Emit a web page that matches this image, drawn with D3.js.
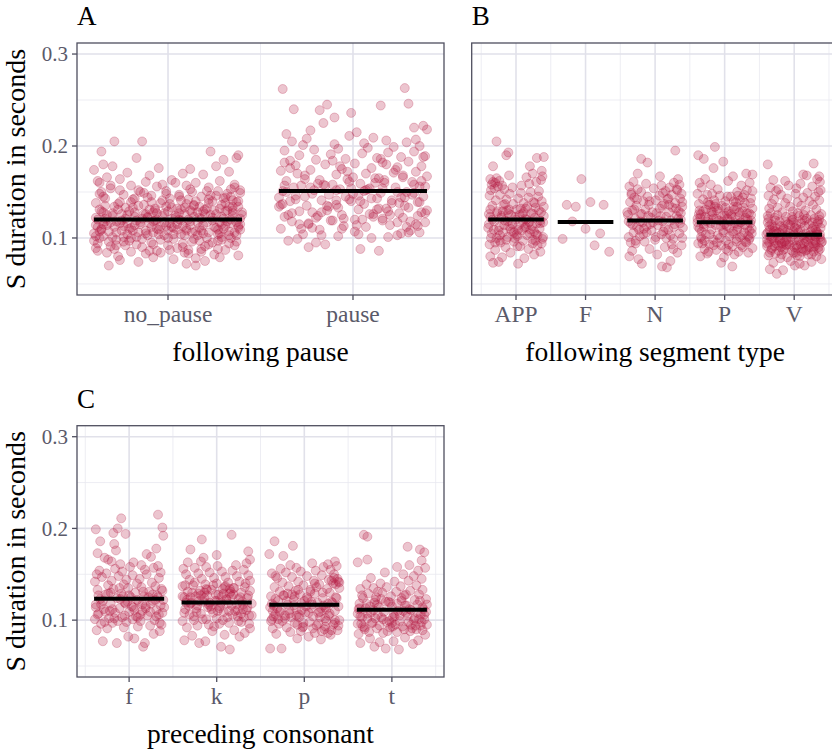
<!DOCTYPE html>
<html>
<head>
<meta charset="utf-8">
<script src="https://cdn.jsdelivr.net/npm/d3@7"></script>
<style>
  body { margin: 0; background: #fff; }
</style>
</head>
<body>
<script>
// durations are in ms, jitter in 1/100 of a category step: [dx, ms, dx, ms, ...]
const pauseCats = ["no_pause", "pause"];
const pauseMeans = [0.120, 0.151];
const noPause = [
-29,205,-14,205,-36,194,23,194,38,190,-17,187,30,185,-35,180,-30,178,-40,174,
37,187,26,178,-5,176,12,175,-22,171,33,172,8,170,-10,168,19,169,-33,166,
-38,162,-26,164,-12,161,2,163,15,160,28,162,36,158,-20,157,-6,156,10,157,
22,155,34,153,-31,154,-16,152,-1,151,13,150,27,151,39,149,-37,148,-24,147,
-9,146,6,147,18,145,31,144,-34,143,-19,142,-3,141,11,142,24,140,37,139,
-39,138,-27,137,-13,136,1,137,14,135,29,136,35,134,-23,133,-7,132,9,133,
20,131,32,130,-36,129,-18,128,-2,127,16,128,26,126,40,125,-30,124,-11,123,
4,124,17,122,30,121,-38,120,-25,119,-8,118,7,119,21,117,34,116,-15,115,
-33,114,-1,113,12,114,25,112,38,111,-21,110,-5,109,10,108,27,109,-37,107,
-28,106,-12,105,3,104,19,105,33,103,-35,102,-17,101,0,100,14,99,29,98,
-40,97,-24,96,-9,95,8,94,22,93,36,92,-31,91,-14,90,5,89,18,88,
31,87,-38,86,-20,85,-4,84,11,83,25,82,-27,80,-8,79,15,78,38,81,
-26,76,3,77,10,72,15,70,-32,70,20,75,-16,74,28,79,-39,89,37,96,
-34,118,-22,125,-10,131,2,121,13,128,24,119,35,127,-29,112,-15,117,-3,124,
8,113,20,126,32,118,-37,131,-25,108,-11,122,1,116,12,130,26,111,39,121,
-30,127,-18,114,-6,120,6,127,17,111,29,123,-35,115,-21,129,-9,112,4,122,
16,117,28,132,38,113,-39,122,-26,116,-13,126,-1,134,10,110,23,125,34,120,
-32,107,-19,133,-7,119,5,109,18,121,31,129,-36,110,-23,121,-12,108,0,129,
11,120,22,106,35,124,-28,118,-16,106,-4,113,7,131,19,114,30,110,40,128,
-38,112,-27,131,-14,121,-2,117,9,126,21,132,33,107,-33,125,-20,111,-8,128,
3,111,14,123,27,104,37,117,-40,105,-29,134,-17,119,-5,104,6,120,17,134,
29,115,-35,128,-22,104,-10,116,2,133,13,106,25,130,36,106,-31,117,-18,123,
-6,110,7,104,19,129,31,113,-37,100,-24,113,-12,126,0,108,12,118,24,122,
35,130,-30,101,-19,108,-7,130,5,115,16,103,28,117,39,109,-26,139,-14,99,
-2,103,10,137,21,100,33,134,-39,114,-28,98,-16,135,-4,98,9,103,22,138,
34,100,-34,135,-21,97,-9,139,3,99,15,140,27,97,38,134,-32,96,-11,144,
1,143,13,96,26,146,37,103,-36,150,-23,92,-8,93,6,145,20,91,32,148,
-38,94,-26,152,-13,149,0,92,12,153,24,95,36,155,-31,157,-17,93,-3,158,
8,90,21,151,33,94,-37,160,-24,101,-10,86,4,160,17,97,30,143,39,152,
-29,88,-15,150,-1,148,11,87,23,146,35,141,-35,145,-20,139,-6,86,7,141,
18,85,31,138,-33,84,-18,143,-4,138,9,84,22,142,34,145,-28,92,-12,83,
1,87,14,136,27,88,38,140,-39,102,-25,126,-11,103,2,112,15,107,28,105,
39,115,-36,109,-22,116,-8,106,5,132,18,108,29,101,-34,121,-20,100,-6,127
];
const pause = [
-38,262,28,263,30,246,15,244,-14,245,-32,240,-18,239,-1,236,-10,231,-16,225,
38,222,40,218,33,220,2,215,-36,213,-23,217,14,86,4,88,-24,90,-15,93,
-35,97,-20,95,-30,99,10,100,24,103,36,106,-8,102,-27,104,19,101,31,108,
-39,110,-22,111,-5,113,7,112,20,114,34,115,39,117,-33,118,-12,119,1,120,
16,121,27,122,-37,123,-19,124,-6,125,11,126,25,127,37,128,-29,129,-14,130,
3,131,18,132,30,133,-40,134,-25,135,-9,136,6,137,21,138,35,139,-34,140,
-17,141,-2,142,13,143,26,144,38,145,-31,146,-13,147,0,148,15,149,29,150,
-38,151,-21,152,-7,153,9,154,23,155,36,156,-28,157,-11,158,4,159,17,160,
32,161,-36,162,-18,163,-3,164,12,165,27,166,40,167,-26,168,-9,169,7,170,
22,171,34,172,-39,173,-23,174,-6,175,10,176,24,177,37,178,-31,179,-15,180,
1,181,16,182,30,183,-34,184,-20,185,-4,186,13,187,26,188,39,189,-29,190,
-12,191,5,192,19,193,33,194,-37,195,-21,196,-8,197,8,198,22,199,36,200,
-27,201,-10,202,6,203,29,204,-33,205,18,206,34,207,-25,208,11,209,-2,211,
-36,150,-22,148,-9,152,3,146,16,154,28,144,39,156,-31,142,-16,158,-1,140,
12,160,25,138,37,162,-39,136,-26,164,-13,134,0,166,14,132,27,168,40,130,
-30,170,-17,128,-3,172,9,126,23,174,35,124,-34,176,-20,122,-7,178,5,120,
18,180,31,118,-37,182,-24,116,-11,184,2,114,15,186,29,112,38,188,-28,110,
-15,157,-4,145,8,153,21,141,33,149,-38,137,-23,155,-8,133,6,151,19,129,
32,147,-35,125,-19,159,-5,121,10,143,24,117,36,139,-29,115,-14,135,1,107,
13,131,26,105,39,127,-32,155,-18,109,-2,161,11,123,24,150,35,113,-26,145,
-11,119,4,140,17,163,30,106,-37,157,-22,128,-6,110,7,152,20,125,33,158,
-40,144,-24,115,-9,141,3,104,16,119,28,135,-33,127,-17,103,-1,154,14,165
];

const segCats = ["APP", "F", "N", "P", "V"];
const segMeans = [0.120, 0.1174, 0.119, 0.117, 0.1036];
const segApp = [
-28,205,-11,193,-14,190,40,188,30,187,20,178,37,173,-33,178,-33,73,3,72,
-25,74,-37,80,-20,79,12,78,26,82,35,85,-8,84,-30,87,18,88,-15,90,
6,91,31,92,-38,93,-22,95,-3,96,10,97,24,98,38,99,-28,100,-12,101,
2,102,16,103,29,104,-35,105,-19,106,-6,107,8,108,21,109,34,110,-40,111,
-24,112,-10,113,4,114,17,115,30,116,39,117,-31,118,-16,119,0,120,13,121,
27,122,-37,123,-21,124,-7,125,9,126,22,127,36,128,-27,129,-13,130,1,131,
14,132,28,133,40,134,-34,135,-18,136,-4,137,11,138,25,139,37,140,-29,141,
-14,142,3,143,18,144,32,145,-38,146,-23,147,-9,148,7,149,21,150,33,151,
-36,152,-31,154,-26,156,-35,158,-30,160,-24,162,-37,164,-28,165,-20,157,-33,161,
-17,153,-5,155,8,157,19,159,29,161,36,163,15,166,-10,168,24,170,38,167,
-39,115,-25,108,-12,118,1,104,14,112,26,107,39,101,-32,109,-17,114,-3,106,
10,118,23,113,35,119,-36,100,-21,122,-8,110,5,125,19,117,31,103,-27,127,
-14,98,-1,123,12,111,25,126,37,94,-34,120,-19,129,-5,115,7,132,20,105,
33,130,-39,126,-23,103,-10,131,3,109,16,134,28,97,40,124,-30,95,-16,137,
-2,100,11,128,24,94,35,116,-37,131,-24,97,-11,127,2,91,15,120,27,138
];
const segF = [-33,99,-27,136,-14,134,-6,164,7,139,26,136,-19,118,0,110,21,105,13,92,34,85];
const segN = [
29,195,-20,186,-11,182,-25,170,7,167,33,164,17,68,10,69,-19,72,-24,77,
-37,80,32,84,-33,86,22,75,3,82,-8,88,14,90,38,92,-28,94,-15,96,
0,98,26,99,-38,101,-22,102,9,104,35,105,-31,106,-5,108,19,109,40,111,
-26,112,-12,113,4,114,28,115,-35,116,-18,117,11,118,23,119,37,120,-29,121,
-6,122,16,123,31,124,-39,125,-21,126,2,127,20,128,34,129,-33,130,-14,131,
7,132,25,133,39,134,-27,135,-9,136,13,137,29,138,-36,139,-17,140,1,141,
18,142,36,143,-30,144,-11,145,6,146,24,147,38,148,-34,149,-20,150,15,151,
32,152,-25,153,-2,154,21,155,-37,156,9,157,35,158,-13,159,27,160,-31,161,
-16,110,5,119,22,103,37,127,-32,114,-10,124,12,107,30,132,-38,118,-23,109,
-4,128,16,100,33,121,-28,97,-7,115,10,135,27,112,39,139,-35,95,-19,126,
1,101,19,143,36,116,-30,131,-12,106,8,124,24,93,-40,128,-26,142,14,111,
31,153,-3,117,-17,104,20,136,39,100,-34,147,-8,140,11,149,26,88,-21,118
];
const segP = [
-14,199,-38,190,-30,186,-2,183,31,170,40,169,12,167,-16,176,-35,80,-5,73,
11,69,-23,85,-36,160,-28,164,-33,155,-20,158,5,162,24,157,36,160,-10,153,
18,150,32,152,-39,148,-25,147,-7,146,9,145,26,144,38,143,-31,142,-15,141,
1,140,16,139,29,138,-37,137,-21,136,-4,135,13,134,27,133,40,132,-27,131,
-11,130,6,129,21,128,35,127,-34,126,-18,125,0,124,15,123,30,122,-39,121,
-24,120,-8,119,8,118,23,117,37,116,-30,115,-13,114,3,113,19,112,33,111,
-36,110,-19,109,-2,108,12,107,28,106,39,105,-27,104,-10,103,7,102,22,101,
36,100,-33,99,-16,98,2,97,17,96,31,95,-38,94,-22,93,-5,92,11,91,
26,90,40,89,-29,88,-12,87,5,86,20,85,34,84,-25,83,14,82,-1,79,
-35,122,-17,128,0,115,14,131,27,119,38,125,-30,112,-14,134,4,121,18,109,
32,127,-39,117,-23,136,-6,113,10,124,25,103,37,138,-33,107,-19,129,-3,118,
13,140,29,114,-37,126,-21,104,-9,132,7,111,22,141,35,98,-28,123,-11,95,
3,127,19,146,33,120,-34,101,-18,148,-2,106,15,116,30,96,40,151,-26,118,
-13,137,6,93,21,124,36,108,-31,129,-16,92,1,133,17,99,28,147,-38,112,
-24,139,-7,100,9,126,24,92,38,119,-29,97,-12,121,4,145,20,115,34,102,
-36,130,-20,116,-4,124,12,105,26,129,39,110,-32,94,-16,121,2,88,18,134
];
const segV = [
-38,180,28,181,13,169,18,168,36,167,37,161,-25,61,-35,66,-16,65,1,70,
15,70,-30,73,8,72,-5,75,25,74,39,77,-20,78,-10,79,32,80,-37,81,
20,82,-27,83,-1,84,11,85,35,86,-33,87,-14,88,4,89,28,90,-39,91,
-22,92,-7,93,14,94,31,95,40,96,-29,97,-11,98,6,99,23,100,37,101,
-35,102,-18,103,0,104,17,105,33,106,-26,107,-9,108,9,109,26,110,38,111,
-31,112,-15,113,3,114,21,115,34,116,-38,117,-21,118,-4,119,12,120,29,121,
-28,122,-12,123,7,124,24,125,39,126,-34,127,-17,128,-2,129,16,130,32,131,
-36,132,-24,133,-6,134,10,135,27,136,-32,137,-13,138,5,139,22,140,36,141,
-29,142,-10,143,13,144,30,145,-37,146,-19,147,2,148,19,149,35,150,-26,151,
-34,155,-8,157,9,159,-23,153,26,156,38,152,-30,163,-13,162,3,154,33,164,
-39,98,-25,105,-11,92,4,110,18,87,31,101,-36,95,-20,113,-3,86,12,103,
27,94,40,116,-32,89,-17,108,0,97,15,119,30,91,-38,106,-23,100,-6,114,
9,93,24,107,37,88,-28,112,-14,96,2,84,19,102,34,118,-35,109,-19,90,
-2,120,14,99,28,85,-40,104,-26,94,-9,115,6,106,21,92,36,124,-31,100,
-16,87,1,111,17,96,33,104,-37,121,-21,97,-5,101,11,89,26,117,39,95,
-29,108,-12,93,5,127,20,98,35,90,-33,115,-18,82,-1,117,16,86,31,109,
-39,94,-24,125,-8,96,8,80,23,103,38,98,-27,119,-11,103,3,92,18,121,
32,107,-35,84,-20,99,-3,123,13,88,28,112,-30,105,-15,110,0,90,15,113,
30,97,-38,124,-22,86,-7,105,10,116,25,82,37,104,-28,91,-13,118,7,97,
22,90,36,120,-33,99,-18,94,-1,107,14,125,29,102,-36,113,-22,106,4,81
];

const consCats = ["f", "k", "p", "t"];
const consMeans = [0.1233, 0.1192, 0.1167, 0.1112];
const consF = [
-9,211,33,215,-38,199,38,201,39,192,-13,200,-18,195,-4,194,-33,186,-17,183,
-15,176,31,178,20,172,25,169,-36,173,-28,168,-24,166,-20,164,-10,161,5,163,
-14,75,-30,77,16,71,18,75,6,80,-1,82,28,85,35,88,-37,89,-25,91,
-6,92,10,93,24,94,37,95,-32,96,-19,97,-3,98,13,99,29,100,-39,101,
-23,102,-8,103,8,104,21,105,34,106,-35,107,-16,108,0,109,15,110,31,111,
-29,112,-11,113,5,114,19,115,36,116,-38,117,-21,118,-5,119,11,120,27,121,
39,122,-33,123,-14,124,2,125,17,126,32,127,-27,128,-9,129,7,130,23,131,
38,132,-36,133,-18,134,-1,135,14,136,30,137,-24,138,-6,139,9,140,26,141,
-39,142,-20,143,-3,144,12,145,34,146,-31,147,-12,148,4,149,20,150,36,152,
-34,154,-16,156,1,158,18,155,28,157,-26,151,-8,153,14,160,33,159,-37,150,
-22,110,-7,126,10,103,25,118,38,108,-30,121,-13,99,3,115,16,131,31,104,
-35,127,-19,112,-2,120,13,106,27,128,40,114,-28,98,-10,123,6,111,22,125,
35,97,-38,114,-24,129,-5,105,9,122,24,109,37,134,-32,117,-17,102,0,127,
15,117,30,122,-27,109,-11,135,4,101,19,113,33,125,-36,106,-21,130,-4,118
];
const consK = [
17,193,-17,188,-30,177,36,175,-15,168,0,171,15,68,5,71,-20,75,-37,78,
-13,77,26,82,32,86,-28,83,9,84,-5,88,20,89,38,91,-34,92,-22,94,
-9,95,3,96,14,97,28,98,-39,99,-26,100,-12,101,0,102,12,103,24,104,
37,105,-31,106,-18,107,-4,108,8,109,21,110,34,111,-36,112,-23,113,-10,114,
4,115,17,116,30,117,40,118,-29,119,-15,120,-2,121,11,122,25,123,35,124,
-37,125,-24,126,-11,127,2,128,15,129,28,130,-33,131,-19,132,-6,133,7,134,
19,135,32,136,-39,137,-27,138,-13,139,0,140,13,141,26,142,38,143,-31,144,
-17,145,-3,146,10,147,23,148,36,149,-35,150,-21,151,-8,152,6,153,18,154,
31,155,-38,156,-25,157,-12,158,1,159,22,160,34,162,-33,163,-18,164,38,166,
-30,118,-14,124,3,113,16,131,29,120,-37,108,-21,129,-7,115,9,136,24,111,
36,127,-26,104,-11,133,5,119,18,106,33,140,-34,122,-16,101,-1,128,14,110,
27,125,40,105,-28,130,-9,117,7,100,20,135,35,114,-39,126,-23,109,-4,138,
11,123,25,99,38,132,-32,116,-18,127,-3,93,13,118,28,107,-36,138,-20,121,
-6,112,8,129,23,117,37,96,-30,125,-12,134,1,110,17,126,31,103,-25,141,
0,121,10,137,-14,130,19,128,-8,119,6,126,30,112,-22,116,15,134,-35,119
];
const consP = [
-34,186,-13,181,-40,172,-24,170,35,164,27,161,-39,69,-26,69,-8,80,19,79,
5,82,30,84,-32,85,-16,87,12,86,38,89,-4,88,23,90,-36,91,-20,92,
-1,93,14,94,33,95,-29,96,-11,97,6,98,25,99,40,100,-37,101,-22,102,
-6,103,10,104,28,105,-33,106,-17,107,1,108,18,109,35,110,-27,111,-9,112,
8,113,24,114,39,115,-35,116,-19,117,-3,118,15,119,31,120,-30,121,-12,122,
4,123,21,124,36,125,-38,126,-23,127,-5,128,12,129,29,130,-28,131,-10,132,
7,133,26,134,40,135,-34,136,-18,137,-1,138,17,139,33,140,-25,141,-7,142,
11,143,28,144,38,145,-31,146,-14,147,3,148,20,149,34,150,-37,151,-21,152,
-4,153,13,154,30,155,-27,156,-9,157,22,158,37,159,-16,160,9,162,-33,148,
-2,92,16,96,31,89,39,94,24,93,10,91,-8,95,35,97,20,88,27,86,
-36,110,-20,121,-6,106,9,117,25,112,37,124,-30,101,-14,128,2,115,18,103,
32,119,-39,114,-25,99,-11,126,5,108,21,130,35,100,-33,123,-17,111,-1,97,
14,136,29,107,-37,118,-22,105,-7,133,8,120,24,102,39,142,-28,109,-12,116,
3,125,19,113,34,146,-35,104,-19,129,-3,111,12,140,27,118,40,141,-31,113,
-15,103,0,121,16,108,31,143,-38,99,-24,127,-9,105,7,131,22,116,36,139
];
const consT = [
-32,193,-28,191,-39,163,-28,166,18,180,32,177,37,174,34,165,-7,69,8,68,
-20,71,-36,75,-14,76,24,74,30,78,2,77,-25,80,15,81,38,84,-38,85,
-10,86,6,87,21,88,35,89,-31,90,-17,91,-2,92,12,93,27,94,40,95,
-35,96,-22,97,-6,98,9,99,25,100,37,101,-28,102,-12,103,3,104,18,105,
33,106,-39,107,-24,108,-9,109,7,110,22,111,36,112,-30,113,-15,114,0,115,
15,116,29,117,-37,118,-20,119,-4,120,11,121,26,122,39,123,-33,124,-18,125,
-1,126,14,127,31,128,-27,129,-11,130,5,131,21,132,35,133,-36,134,-21,135,
-6,136,10,137,28,138,-29,139,-13,140,3,142,19,143,34,145,-24,146,25,148,
13,150,-8,152,30,154,38,157,6,158,20,160,-34,127,-16,106,1,93,17,116,
31,101,-38,112,-23,97,-7,120,9,105,23,91,39,109,-29,118,-14,94,2,107,
19,98,35,114,-34,103,-19,122,-3,99,13,110,28,90,-39,96,-25,115,-10,101,
6,118,22,95,37,106,-31,92,-16,131,0,97,16,108,32,121,-36,104,-21,111,
-5,88,11,124,26,102,40,117,-28,107,-12,123,4,95,20,112,34,98,-26,87,
-37,113,-19,102,-2,119,14,90,29,108,-33,93,-17,117,1,103,16,128,33,94
];

const yMajor = [0.1, 0.2, 0.3];
const yMinor = [0.05, 0.15, 0.25];

const pointColor = "#b2183f";
const borderColor = "#4f4f5f";
const tickTextColor = "#5a5a6a";
const serif = "'Liberation Serif', 'DejaVu Serif', serif";

const svg = d3.select("body").append("svg")
    .attr("width", 832)
    .attr("height", 753)
    .attr("font-family", serif);

svg.append("rect").attr("width", 832).attr("height", 753).attr("fill", "#fff");

function drawPanel(p) {
    const g = svg.append("g");
    const x = d3.scaleLinear().domain(p.xDomain).range([p.left, p.right]);
    const y = d3.scaleLinear().domain([0.038, 0.312]).range([p.bottom, p.top]);

    // minor grid
    const xMinor = d3.range(0.5, p.cats.length + 1, 1)
        .filter(v => v > p.xDomain[0] && v < p.xDomain[1]);
    g.selectAll(".hmin").data(yMinor).enter().append("line")
        .attr("x1", p.left).attr("x2", p.right)
        .attr("y1", d => y(d)).attr("y2", d => y(d))
        .attr("stroke", "#e9e9f0").attr("stroke-width", 0.8);
    g.selectAll(".vmin").data(xMinor).enter().append("line")
        .attr("y1", p.top).attr("y2", p.bottom)
        .attr("x1", d => x(d)).attr("x2", d => x(d))
        .attr("stroke", "#e9e9f0").attr("stroke-width", 0.8);
    // major grid
    g.selectAll(".hmaj").data(yMajor).enter().append("line")
        .attr("x1", p.left).attr("x2", p.right)
        .attr("y1", d => y(d)).attr("y2", d => y(d))
        .attr("stroke", "#e1e1ea").attr("stroke-width", 1.6);
    g.selectAll(".vmaj").data(p.cats).enter().append("line")
        .attr("y1", p.top).attr("y2", p.bottom)
        .attr("x1", (d, i) => x(i + 1)).attr("x2", (d, i) => x(i + 1))
        .attr("stroke", "#e1e1ea").attr("stroke-width", 1.6);

    // jittered points
    const pts = [];
    p.points.forEach((arr, i) => {
        for (let k = 0; k < arr.length; k += 2) {
            pts.push({ cat: i, dx: arr[k] / 100, v: arr[k + 1] / 1000 });
        }
    });
    g.selectAll(".pt").data(pts).enter().append("circle")
        .attr("cx", d => x(d.cat + 1 + d.dx))
        .attr("cy", d => y(d.v))
        .attr("r", 4.5)
        .attr("fill", pointColor)
        .attr("fill-opacity", 0.25)
        .attr("stroke", pointColor)
        .attr("stroke-opacity", 0.25)
        .attr("stroke-width", 1);

    // mean bars
    g.selectAll(".mean").data(p.means).enter().append("line")
        .attr("x1", (d, i) => x(i + 1 - 0.4))
        .attr("x2", (d, i) => x(i + 1 + 0.4))
        .attr("y1", d => y(d)).attr("y2", d => y(d))
        .attr("stroke", "#000").attr("stroke-width", 4);

    // border
    g.append("rect")
        .attr("x", p.left).attr("y", p.top)
        .attr("width", p.right - p.left).attr("height", p.bottom - p.top)
        .attr("fill", "none").attr("stroke", borderColor).attr("stroke-width", 1.3);

    // x axis
    p.cats.forEach((c, i) => {
        g.append("line")
            .attr("x1", x(i + 1)).attr("x2", x(i + 1))
            .attr("y1", p.bottom).attr("y2", p.bottom + 5)
            .attr("stroke", borderColor).attr("stroke-width", 1.3);
        g.append("text")
            .attr("x", x(i + 1)).attr("y", p.bottom + 27)
            .attr("text-anchor", "middle")
            .attr("font-family", serif)
            .attr("font-size", 23.5).attr("fill", tickTextColor)
            .text(c);
    });
    g.append("text")
        .attr("x", (p.left + p.right) / 2).attr("y", p.bottom + 66)
        .attr("text-anchor", "middle")
        .attr("font-family", serif)
        .attr("font-size", 27.5).attr("fill", "#000")
        .text(p.xTitle);

    // y axis
    if (p.showY) {
        yMajor.forEach(v => {
            g.append("line")
                .attr("x1", p.left - 5).attr("x2", p.left)
                .attr("y1", y(v)).attr("y2", y(v))
                .attr("stroke", borderColor).attr("stroke-width", 1.3);
            g.append("text")
                .attr("x", p.left - 9).attr("y", y(v))
                .attr("dy", "0.35em")
                .attr("text-anchor", "end")
                .attr("font-family", serif)
                .attr("font-size", 21).attr("fill", tickTextColor)
                .text(d3.format(".1f")(v));
        });
        g.append("text")
            .attr("transform", `translate(25,${(p.top + p.bottom) / 2}) rotate(-90)`)
            .attr("text-anchor", "middle")
            .attr("font-family", serif)
            .attr("font-size", 28).attr("fill", "#000")
            .text("S duration in seconds");
    }

    // tag
    g.append("text")
        .attr("x", p.left).attr("y", p.top - 18)
        .attr("font-family", serif)
        .attr("font-size", 27).attr("fill", "#000")
        .text(p.tag);
}

drawPanel({
    tag: "A", left: 77, right: 444, top: 43, bottom: 295,
    xDomain: [0.508, 2.492], cats: pauseCats, means: pauseMeans,
    points: [noPause, pause], xTitle: "following pause", showY: true
});
drawPanel({
    tag: "B", left: 471.7, right: 838.5, top: 43, bottom: 295,
    xDomain: [0.363, 5.637], cats: segCats, means: segMeans,
    points: [segApp, segF, segN, segP, segV], xTitle: "following segment type", showY: false
});
drawPanel({
    tag: "C", left: 77, right: 444, top: 425.7, bottom: 677,
    xDomain: [0.405, 4.595], cats: consCats, means: consMeans,
    points: [consF, consK, consP, consT], xTitle: "preceding consonant", showY: true
});
</script>
</body>
</html>
